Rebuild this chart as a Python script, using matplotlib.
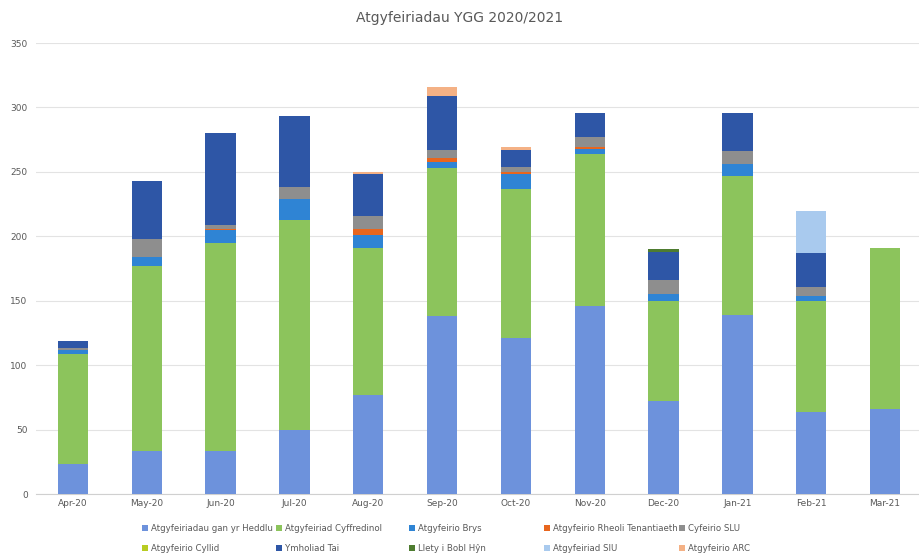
"""Stacked bar chart: Atgyfeiriadau YGG 2020/2021."""

import matplotlib
matplotlib.use("Agg")
import matplotlib.pyplot as plt
import numpy as np

months = ["Apr-20", "May-20", "Jun-20", "Jul-20", "Aug-20", "Sep-20",
          "Oct-20", "Nov-20", "Dec-20", "Jan-21", "Feb-21", "Mar-21"]

heddlu      = [23, 33, 33, 50, 77, 138, 121, 146, 72, 139, 64, 66]
cyffredinol = [86, 144, 162, 163, 114, 115, 116, 118, 78, 108, 86, 125]
brys        = [3, 7, 10, 16, 10, 5, 11, 4, 5, 9, 4, 0]
rheoli      = [0, 0, 1, 0, 5, 3, 2, 1, 0, 0, 0, 0]
slu         = [1, 14, 3, 9, 10, 6, 4, 8, 11, 10, 7, 0]
cylid       = [0, 0, 0, 0, 0, 0, 0, 0, 0, 0, 0, 0]
ymholiad    = [6, 45, 71, 55, 32, 42, 13, 19, 22, 30, 26, 0]
llety       = [0, 0, 0, 0, 0, 0, 0, 0, 2, 0, 0, 0]
siu         = [0, 0, 0, 0, 0, 0, 0, 0, 0, 0, 33, 0]
arc         = [0, 0, 0, 0, 2, 7, 2, 0, 0, 0, 0, 0]

series = [
    ("Atgyfeiriadau gan yr Heddlu", heddlu, "#6d92dc"),
    ("Atgyfeiriad Cyffredinol", cyffredinol, "#8cc45c"),
    ("Atgyfeirio Brys", brys, "#2f84d4"),
    ("Atgyfeirio Rheoli Tenantiaeth", rheoli, "#e8661e"),
    ("Cyfeirio SLU", slu, "#8e8e8e"),
    ("Atgyfeirio Cyllid", cylid, "#b8cc22"),
    ("Ymholiad Tai", ymholiad, "#2e56a6"),
    ("Llety i Bobl Hŷn", llety, "#4e7c30"),
    ("Atgyfeiriad SIU", siu, "#a9caee"),
    ("Atgyfeirio ARC", arc, "#f4b185"),
]

fig = plt.figure(figsize=(9.2, 5.54), dpi=100)
ax = fig.add_axes([36 / 920, 1 - 494 / 554, 886 / 920, 451 / 554])

x = np.arange(len(months))
bottom = np.zeros(len(months))
handles = []
for label, vals, colour in series:
    vals = np.array(vals, dtype=float)
    h = ax.bar(x, vals, 0.41, bottom=bottom, color=colour, label=label, zorder=3)
    handles.append(h)
    bottom += vals

ax.set_xlim(-0.5, len(months) - 0.5)
ax.set_ylim(0, 350)
ax.set_yticks(range(0, 351, 50))
ax.set_xticks(x)
ax.set_xticklabels(months)
ax.tick_params(axis="both", length=0, labelsize=6.5, colors="#595959")
ax.tick_params(axis="y", pad=6)
ax.grid(axis="y", color="#e3e3e3", linewidth=0.8, zorder=0)
for side in ["top", "right", "left"]:
    ax.spines[side].set_visible(False)
ax.spines["bottom"].set_color("#d0d0d0")

fig.text(0.5, 1 - 18 / 554, "Atgyfeiriadau YGG 2020/2021", ha="center", va="center",
         fontsize=10, color="#595959")

# one legend per column so the columns sit at even spacing like the original
col_x = [138, 272, 405, 540, 675]
for c, cx in enumerate(col_x):
    idx = [c, c + 5]
    leg = fig.legend([handles[i] for i in idx], [series[i][0] for i in idx],
                     loc="upper left", bbox_to_anchor=(cx / 920, 1 - 520 / 554),
                     ncol=1, frameon=False, fontsize=6.2, labelcolor="#595959",
                     handlelength=0.7, handleheight=0.7, handletextpad=0.3,
                     labelspacing=1.2, borderpad=0)

fig.savefig("out.png", dpi=100)
